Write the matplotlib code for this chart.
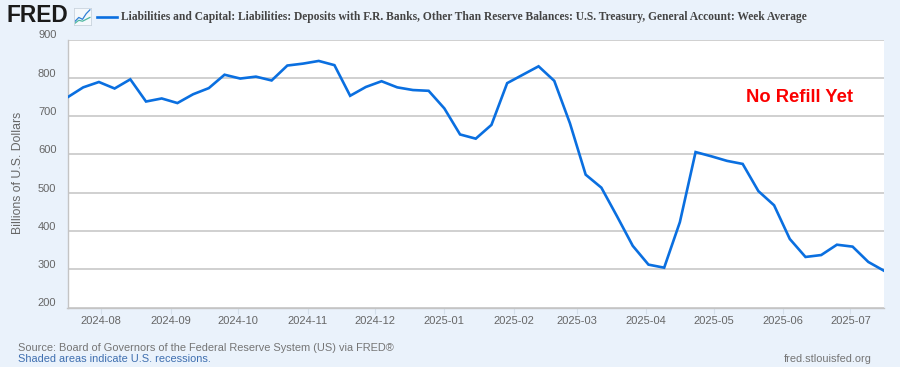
import matplotlib
matplotlib.use("Agg")
import matplotlib.pyplot as plt
from matplotlib.transforms import offset_copy
import pandas as pd

start_date = "2024-07-17"
tga_values = [749, 775, 789, 772, 796, 738, 746, 734, 757, 773, 808, 798, 803,
              793, 832, 837, 844, 833, 753, 776, 791, 775, 768, 766, 720, 652,
              641, 677, 786, 808, 830, 792, 681, 547, 513, 438, 361, 312, 304,
              423, 606, 595, 583, 575, 504, 467, 379, 332, 337, 364, 359, 319, 296]
y_ticks = [200, 300, 400, 500, 600, 700, 800, 900]
x_ticks = ["2024-08", "2024-09", "2024-10", "2024-11", "2024-12", "2025-01",
           "2025-02", "2025-03", "2025-04", "2025-05", "2025-06", "2025-07"]
series_name = ("Liabilities and Capital: Liabilities: Deposits with F.R. Banks, Other Than "
               "Reserve Balances: U.S. Treasury, General Account: Week Average")

dates = pd.date_range(start_date, periods=len(tga_values), freq="7D")
W, H = 900, 367
BG = "#eaf2fb"
BLUE = "#0a6fe0"
GRID = "#c8c8c8"
TXT = "#666666"

fig = plt.figure(figsize=(W / 100, H / 100), dpi=100, facecolor=BG)
ax = fig.add_axes([67.5 / W, 1 - 307.5 / H, (884 - 67.5) / W, (307.5 - 39.5) / H])
ax.set_facecolor("white")
sans = ["Liberation Sans", "DejaVu Sans"]
serif = ["Liberation Serif", "DejaVu Serif"]

ax.plot(dates, tga_values, color=BLUE, lw=1.9, solid_joinstyle="miter", clip_on=True, zorder=3)
ax.set_xlim(dates[0], dates[-1])
ax.set_ylim(200, 900)
ax.set_yticks(y_ticks)
ax.grid(axis="y", color=GRID, lw=1.2)
ax.set_axisbelow(True)
tick_dates = pd.to_datetime([t + "-01" for t in x_ticks])
ax.set_xticks(tick_dates)
ax.set_xticklabels(x_ticks)
ax.tick_params(axis="x", length=4, width=0.8, color="#d4dfea", labelsize=8, labelcolor=TXT, pad=2.3)
ax.tick_params(axis="y", length=0, labelsize=8, labelcolor=TXT, pad=8)
for lab in ax.get_xticklabels() + ax.get_yticklabels():
    lab.set_family(sans)
for lab in ax.get_yticklabels():
    lab.set_transform(offset_copy(lab.get_transform(), fig=fig, y=5, units="dots"))
for s in ["top", "right"]:
    ax.spines[s].set_visible(False)
for s in ["left", "bottom"]:
    ax.spines[s].set_color("#c4c4c4")
    ax.spines[s].set_linewidth(1.0)

def ft(x, y, s, **kw):
    return fig.text(x / W, 1 - y / H, s, **kw)

ft(18.5, 173, "Billions of U.S. Dollars", rotation=90, family=sans, fontsize=8.8,
   color=TXT, ha="center", va="center")
ft(746.5, 97.5, "No Refill Yet", family=sans, fontsize=13.2, fontweight="bold",
   color="#fb0000", ha="left", va="center")
ft(7, 16, "FRED", family=sans, fontsize=16.4, fontweight="bold", color="#1a1a1a",
   ha="left", va="center")
ft(121, 17, series_name, family=serif, fontsize=8.3, fontweight="bold", color="#444444",
   ha="left", va="center")
fig.add_artist(plt.Line2D([97 / W, 117 / W], [1 - 17 / H] * 2, color=BLUE, lw=1.9))
ft(18, 348, "Source: Board of Governors of the Federal Reserve System (US) via FRED\u00ae",
   family=sans, fontsize=7.92, color="#757575", ha="left", va="center")
ft(18, 359.5, "Shaded areas indicate U.S. recessions.", family=sans, fontsize=7.92,
   color="#3f6fb0", ha="left", va="center")
ft(871.5, 359.5, "fred.stlouisfed.org", family=sans, fontsize=7.92, color="#757575",
   ha="right", va="center")

# small FRED graph icon beside the logo
icon = fig.add_axes([74 / W, 1 - 25 / H, 17 / W, 17 / H], facecolor="#f4f8fc")
icon.set_xticks([]); icon.set_yticks([])
for s in icon.spines.values():
    s.set_color("#c9d3dd"); s.set_linewidth(0.6)
icon.plot([0, 1, 2, 3, 4], [2, 4, 3, 6, 8], color="#2f7fd6", lw=0.9)
icon.plot([0, 1, 2, 3, 4], [1, 2.5, 2, 3, 4], color="#4fb8a0", lw=0.9)
icon.set_xlim(-0.3, 4.3); icon.set_ylim(0, 9)

fig.savefig("out.png", dpi=100, facecolor=BG)
